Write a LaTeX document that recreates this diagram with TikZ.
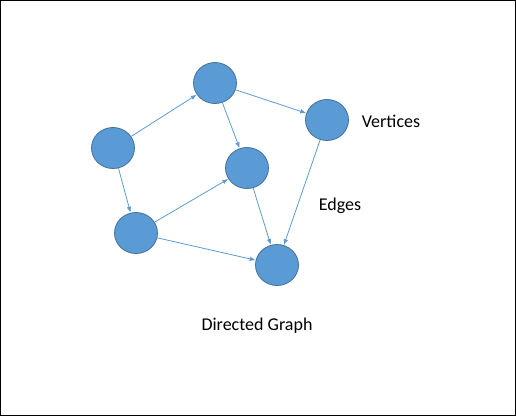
\documentclass[tikz,border=0pt]{standalone}
\usepackage{fontspec}
\setmainfont{Carlito}
\usetikzlibrary{shapes.geometric,arrows.meta}
\definecolor{vfill}{HTML}{5B9BD5}
\definecolor{vline}{HTML}{41719C}

\begin{document}
\begin{tikzpicture}[x=1pt,y=-1pt,
	vertex/.style={ellipse, fill=vfill, draw=vline, line width=0.8pt, minimum width=43pt, minimum height=41pt, inner sep=0pt},
	edge/.style={draw=vfill, line width=0.8pt, -{Latex[length=6pt,width=4.5pt]}},
	lbl/.style={font=\fontsize{18}{21}\selectfont, inner sep=0pt}]
			
			% frame
			\draw[line width=1pt] (0.5,0.5) rectangle (515.5,415.5);
			
			% vertices
			\node[vertex] (a) at (113,148) {};
			\node[vertex] (b) at (215,83) {};
			\node[vertex] (c) at (327,120) {};
			\node[vertex] (d) at (247,168) {};
			\node[vertex] (e) at (136,233) {};
			\node[vertex] (f) at (277,265) {};
			
			% edges
			\foreach \u/\v in {a/b,b/c,b/d,a/e,e/d,e/f,d/f,c/f} {
				\draw[edge] (\u) -- (\v);
			}
			
			% labels
			\node[lbl] (vertices) at (391,121) {Vertices};
			\node[lbl] (edges) at (340,206) {Edges};
			\node[lbl] (title) at (257,326) {Directed Graph};
			
		\end{tikzpicture}
\end{document}
